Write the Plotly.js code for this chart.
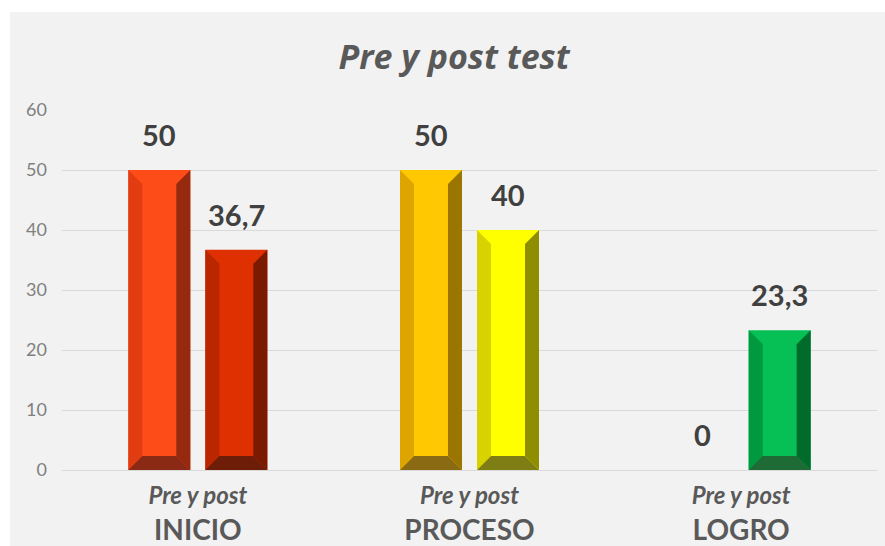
<!DOCTYPE html>
<html><head><meta charset="utf-8">
<script src="https://cdn.plot.ly/plotly-3.0.1.min.js"></script>
<style>html,body{margin:0;padding:0;background:#fff}</style>
</head><body><div id="chart" style="width:885px;height:546px"></div>
<script>
// ---- data ----
const categories = ['INICIO', 'PROCESO', 'LOGRO'];
const subLabel = 'Pre y post';
const preValues = [50, 50, 0];
const postValues = [36.7, 40, 23.3];
const yTicks = [0, 10, 20, 30, 40, 50, 60];

// ---- colours (face, left bevel, right bevel, bottom bevel) ----
const preFace   = ['#FE4C18', '#FFC800', '#00B050'];
const preLeft   = ['#E23C12', '#DEA400', '#009A40'];
const preRight  = ['#952A0E', '#9A7600', '#006A2A'];
const preBottom = ['#8A2A14', '#8A6A12', '#1E6B35'];
const postFace   = ['#DE3000', '#FFFF00', '#06BF55'];
const postLeft   = ['#BA2600', '#D8D200', '#00993F'];
const postRight  = ['#7A1A00', '#8E8E00', '#006B2A'];
const postBottom = ['#6E1E08', '#7E7E14', '#1E6B35'];

// ---- layout geometry ----
const W = 885, H = 546, M = {l: 62, r: 8, t: 110, b: 76};
const plotW = W - M.l - M.r, plotH = H - M.t - M.b;
const xRange = [-0.5, 2.5], yRange = [0, 60];
const pxX = plotW / (xRange[1] - xRange[0]);
const pxY = plotH / (yRange[1] - yRange[0]);
const bargap = 0.433, bargroupgap = 0.195;
const slot = (1 - bargap) / 2;
const barW = slot * (1 - bargroupgap);
const bevelPx = 14;
const bx = bevelPx / pxX, by = bevelPx / pxY;

const xs = categories.map((c, i) => i);
const fmt = v => String(v).replace('.', ',');

const traces = [
  {type: 'bar', name: 'Pre', x: xs, y: preValues, marker: {color: preFace, line: {width: 0}}, hoverinfo: 'skip'},
  {type: 'bar', name: 'Post', x: xs, y: postValues, marker: {color: postFace, line: {width: 0}}, hoverinfo: 'skip'}
];

const shapes = [];
// gray panel behind chart
shapes.push({type: 'rect', xref: 'paper', yref: 'paper', layer: 'below',
  x0: (10 - M.l) / plotW, x1: (W - M.l) / plotW,
  y0: -(H - (H - M.b)) / plotH, y1: (H - M.b - 12) / plotH,
  fillcolor: '#F2F2F2', line: {width: 0}});

function bevels(vals, offset, left, right, bottom) {
  vals.forEach((v, i) => {
    if (!(v > 0)) return;
    const c = i + offset, h = barW / 2;
    const L = c - h, R = c + h;
    const p = (pts) => 'M' + pts.map(q => q[0] + ',' + q[1]).join(' L') + ' Z';
    shapes.push({type: 'path', xref: 'x', yref: 'y', layer: 'above', line: {width: 0}, fillcolor: left[i],
      path: p([[L, 0], [L, v], [L + bx, v - by], [L + bx, by]])});
    shapes.push({type: 'path', xref: 'x', yref: 'y', layer: 'above', line: {width: 0}, fillcolor: right[i],
      path: p([[R, 0], [R, v], [R - bx, v - by], [R - bx, by]])});
    shapes.push({type: 'path', xref: 'x', yref: 'y', layer: 'above', line: {width: 0}, fillcolor: bottom[i],
      path: p([[L, 0], [R, 0], [R - bx, by], [L + bx, by]])});
  });
}
bevels(preValues, -slot / 2, preLeft, preRight, preBottom);
bevels(postValues, slot / 2, postLeft, postRight, postBottom);

const annotations = [];
function labels(vals, offset) {
  vals.forEach((v, i) => annotations.push({
    x: i + offset, y: v, xref: 'x', yref: 'y', text: '<b>' + fmt(v) + '</b>', showarrow: false,
    yanchor: 'bottom', yshift: 16, font: {family: 'Lato', size: 29, color: '#404040'}
  }));
}
labels(preValues, -slot / 2);
labels(postValues, slot / 2);

const layout = {
  width: W, height: H, margin: M,
  paper_bgcolor: '#FFFFFF', plot_bgcolor: 'rgba(0,0,0,0)',
  showlegend: false, barmode: 'group', bargap: bargap, bargroupgap: bargroupgap,
  title: {text: 'Pre y post test', x: 454 / W, xref: 'container', xanchor: 'center',
    y: 1 - 57 / H, yref: 'container', yanchor: 'middle',
    font: {family: 'Open Sans', size: 34, color: '#595959', weight: 700, style: 'italic'}},
  xaxis: {type: 'linear', range: xRange, tickvals: xs,
    ticktext: categories.map(c => '<span style="font-size:24px"><b><i>' + subLabel + '</i></b></span><br><b>' + c + '</b>'),
    tickfont: {family: 'Lato', size: 28, color: '#595959'}, showgrid: false, zeroline: false,
    showline: false, ticks: '', ticklabelstandoff: 5, fixedrange: true},
  yaxis: {range: yRange, tickvals: yTicks, ticks: '', showgrid: true, gridcolor: '#D9D9D9', gridwidth: 1,
    zeroline: true, zerolinecolor: '#D9D9D9', zerolinewidth: 1, showline: false,
    tickfont: {family: 'Lato', size: 18, color: '#808080'}, ticklabelstandoff: 14, fixedrange: true},
  shapes: shapes, annotations: annotations
};

Plotly.newPlot('chart', traces, layout, {staticPlot: true, displayModeBar: false});
</script></body></html>
